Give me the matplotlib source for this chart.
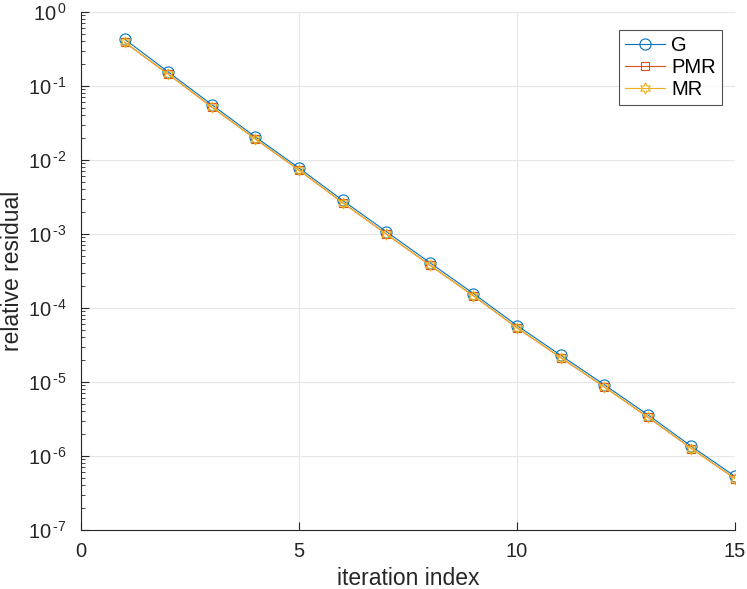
import numpy as np
import matplotlib.pyplot as plt
from matplotlib.ticker import FuncFormatter

plt.rcParams['font.family'] = ['Liberation Sans', 'DejaVu Sans']

iters = np.arange(1, 16)
res_G = [0.43, 0.155, 0.056, 0.0205, 0.0078, 2.85e-3, 1.08e-3, 4.1e-4,
         1.57e-4, 5.8e-5, 2.3e-5, 9.2e-6, 3.6e-6, 1.35e-6, 5.3e-7]
res_PMR = [0.39, 0.145, 0.052, 0.0192, 0.0073, 2.65e-3, 1.0e-3, 3.8e-4,
           1.46e-4, 5.4e-5, 2.14e-5, 8.6e-6, 3.35e-6, 1.26e-6, 4.95e-7]
res_MR = [0.39, 0.145, 0.052, 0.0192, 0.0073, 2.65e-3, 1.0e-3, 3.8e-4,
          1.46e-4, 5.4e-5, 2.14e-5, 8.6e-6, 3.35e-6, 1.26e-6, 4.95e-7]
x_ticks = [0, 5, 10, 15]
y_exps = list(range(-7, 1))

fig = plt.figure(figsize=(7.47, 5.89), dpi=100)
ax = fig.add_axes([0.1084, 0.1002, 0.8756, 0.8794])

ax.semilogy(iters, res_G, '-o', color='#0072BD', lw=0.8, ms=8, mfc='none', mew=0.8, label='G')
ax.semilogy(iters, res_PMR, '-s', color='#D95319', lw=0.8, ms=6, mfc='none', mew=0.8, label='PMR')
ax.semilogy(iters, res_MR, '-', marker=(6, 1, 0), color='#EDB120', lw=0.8, ms=8, mfc='none', mew=0.8, label='MR')

ax.set_xlim(0, 15)
ax.set_ylim(1e-7, 1)
ax.set_xticks(x_ticks)
ax.set_yticks([10.0**k for k in y_exps])


def exp_label(v, pos):
    # matlab-ish: "10" then a raised exponent with a short hyphen
    e = int(round(np.log10(v)))
    s = str(e).replace('-', '\u2010')
    return r'$\mathdefault{10^{\,%s}}$' % s


ax.yaxis.set_major_formatter(FuncFormatter(exp_label))
ax.grid(True, which='major', color='#e6e6e6', lw=0.8)
ax.set_axisbelow(True)
for s in ['top', 'right']:
    ax.spines[s].set_visible(False)
for s in ['left', 'bottom']:
    ax.spines[s].set_color('#262626')
    ax.spines[s].set_linewidth(0.8)
ax.tick_params(which='both', direction='in', labelsize=14.5, colors='#262626')
ax.tick_params(which='major', length=6)
ax.tick_params(which='minor', length=3)
ax.tick_params(axis='x', pad=9)
ax.tick_params(axis='y', pad=10)

ax.set_xlabel('iteration index', fontsize=16.5, color='#262626')
ax.set_ylabel('relative residual', fontsize=16.5, color='#262626')
ax.xaxis.set_label_coords(0.5, -0.072)
ax.yaxis.set_label_coords(-0.087, 0.5)

leg = ax.legend(loc='upper right', bbox_to_anchor=(0.98, 0.965), borderaxespad=0,
                fontsize=14.5, fancybox=False, edgecolor='#262626', handlelength=2.0,
                borderpad=0.3, labelspacing=0.15, handletextpad=0.3)
leg.get_frame().set_linewidth(0.8)

fig.savefig('out.png', dpi=100)
